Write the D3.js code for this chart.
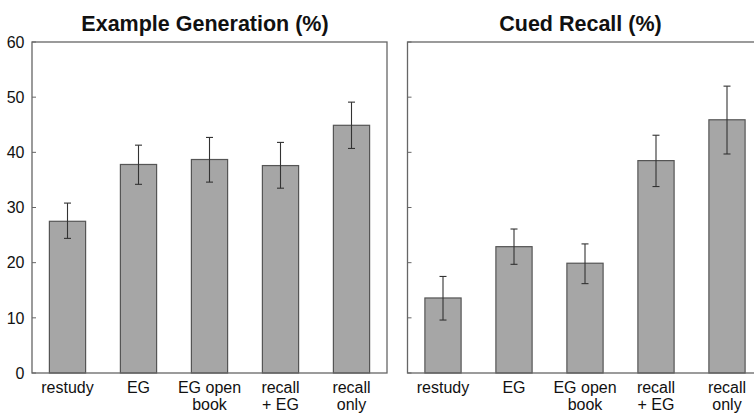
<!DOCTYPE html>
<html>
<head>
<meta charset="utf-8">
<script src="https://cdn.jsdelivr.net/npm/d3@7"></script>
<style>
html,body{margin:0;padding:0;background:#fff;}
svg{display:block;}
text{font-family:"Liberation Sans",Arial,sans-serif;fill:#111;}
</style>
</head>
<body>
<svg id="chart" width="754" height="413"></svg>
<script>
// ---- data ----
const categories = ["restudy", "EG", "EG open\nbook", "recall\n+ EG", "recall\nonly"];
const panelTitles = ["Example Generation (%)", "Cued Recall (%)"];
const egMean = [27.5, 37.8, 38.7, 37.6, 44.9];
const egLow  = [24.4, 34.2, 34.6, 33.5, 40.7];
const egHigh = [30.8, 41.3, 42.7, 41.8, 49.1];
const crMean = [13.6, 22.9, 19.9, 38.5, 45.9];
const crLow  = [9.6, 19.7, 16.2, 33.8, 39.7];
const crHigh = [17.5, 26.1, 23.4, 43.1, 52.0];
const yTicks = [0, 10, 20, 30, 40, 50, 60];

const panels = [
  {title: panelTitles[0], mean: egMean, low: egLow, high: egHigh, x0: 32, labels: true},
  {title: panelTitles[1], mean: crMean, low: crLow, high: crHigh, x0: 407.5, labels: false}
];

const svg = d3.select("#chart");
const plotTop = 42, plotBottom = 373, pw = 355;
const y = d3.scaleLinear().domain([0, 60]).range([plotBottom, plotTop]);

panels.forEach(p => {
  const x = d3.scaleBand().domain(categories).range([p.x0, p.x0 + pw]).paddingInner(0.49).paddingOuter(0.245);
  const g = svg.append("g");

  // bars
  g.selectAll("rect.bar").data(categories).join("rect")
    .attr("class", "bar")
    .attr("x", d => x(d))
    .attr("width", x.bandwidth())
    .attr("y", (d, i) => y(p.mean[i]))
    .attr("height", (d, i) => y(0) - y(p.mean[i]))
    .attr("fill", "#a6a6a6")
    .attr("stroke", "#555")
    .attr("stroke-width", 1.2);

  // error bars
  const eb = g.selectAll("g.eb").data(categories).join("g").attr("class", "eb")
    .attr("stroke", "#333").attr("stroke-width", 1.1);
  eb.append("line")
    .attr("x1", d => x(d) + x.bandwidth() / 2).attr("x2", d => x(d) + x.bandwidth() / 2)
    .attr("y1", (d, i) => y(p.low[i])).attr("y2", (d, i) => y(p.high[i]));
  eb.append("line")
    .attr("x1", d => x(d) + x.bandwidth() / 2 - 3.5).attr("x2", d => x(d) + x.bandwidth() / 2 + 3.5)
    .attr("y1", (d, i) => y(p.high[i])).attr("y2", (d, i) => y(p.high[i]));
  eb.append("line")
    .attr("x1", d => x(d) + x.bandwidth() / 2 - 3.5).attr("x2", d => x(d) + x.bandwidth() / 2 + 3.5)
    .attr("y1", (d, i) => y(p.low[i])).attr("y2", (d, i) => y(p.low[i]));

  // inward ticks
  g.selectAll("line.tick").data(yTicks).join("line")
    .attr("x1", p.x0).attr("x2", p.x0 + 4)
    .attr("y1", d => y(d)).attr("y2", d => y(d))
    .attr("stroke", "#666").attr("stroke-width", 1);

  // frame
  g.append("rect")
    .attr("x", p.x0).attr("y", plotTop).attr("width", pw).attr("height", plotBottom - plotTop)
    .attr("fill", "none").attr("stroke", "#666").attr("stroke-width", 1.3);

  // tick labels
  if (p.labels) {
    g.selectAll("text.yl").data(yTicks).join("text")
      .attr("x", 24.5).attr("y", d => y(d)).attr("dy", "0.36em")
      .attr("text-anchor", "end").attr("font-size", 16).text(d => d);
  }

  // category labels
  const cl = g.selectAll("text.cl").data(categories).join("text")
    .attr("text-anchor", "middle").attr("font-size", 16);
  cl.each(function(d) {
    const t = d3.select(this);
    d.split("\n").forEach((line, j) => {
      t.append("tspan").attr("x", x(d) + x.bandwidth() / 2).attr("y", 393 + j * 17.3).text(line);
    });
  });

  // title
  g.append("text")
    .attr("x", p.x0 + pw / 2 - 4.5).attr("y", 31)
    .attr("text-anchor", "middle").attr("font-size", 21.5).attr("font-weight", "bold")
    .text(p.title);
});
</script>
</body>
</html>
